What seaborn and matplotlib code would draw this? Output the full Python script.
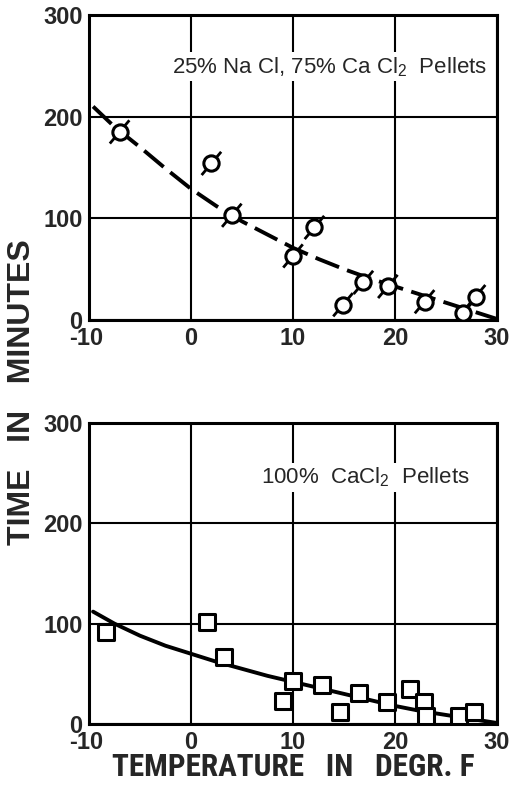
import numpy as np
import pandas as pd
import matplotlib
matplotlib.use("Agg")
import matplotlib.pyplot as plt
import seaborn as sns
from matplotlib import font_manager
from matplotlib.font_manager import FontProperties
from matplotlib.path import Path
from matplotlib.transforms import ScaledTranslation

# ---------------- data ----------------
x_ticks = [-10, 0, 10, 20, 30]
x_tick_labels = ["-10", "0", "10", "20", "30"]
y_ticks = [0, 100, 200, 300]
y_tick_labels = ["0", "100", "200", "300"]

# top panel: 25% NaCl, 75% CaCl2 pellets (points)
top_temp = [-7.0, 2.0, 4.0, 10.0, 12.1, 14.9, 16.9, 19.3, 22.9, 26.7, 27.9]
top_time = [185, 154, 103, 63, 91, 15, 37, 33, 18, 7, 23]
# top panel fitted curve
top_curve_temp = [-9.6, -7.5, -5, -2.5, 0, 2.5, 5, 7.5, 10, 12.5, 15, 17.5, 20, 22.5, 25, 27.5, 30]
top_curve_time = [210, 190, 170, 149, 129, 112, 97, 84, 71, 60, 50, 41, 33, 25, 17, 9, 1]

# bottom panel: 100% CaCl2 pellets (points)
bot_temp = [-8.3, 1.6, 3.2, 10.0, 9.0, 12.8, 14.6, 16.5, 19.2, 21.5, 22.8, 23.0, 26.3, 27.7]
bot_time = [92, 102, 67, 43, 23, 39, 12, 31, 22, 35, 22, 8, 8, 12]
# bottom panel fitted curve
bot_curve_temp = [-9.6, -7.5, -5, -2.5, 0, 2.5, 5, 7.5, 10, 12.5, 15, 17.5, 20, 22.5, 25, 27.5, 30]
bot_curve_time = [112, 100, 88, 78, 70, 62, 55, 48, 42, 36, 30, 24, 18, 13, 9, 5, 1]

top_label = "25% Na Cl, 75% Ca Cl$_2$  Pellets"
bot_label = "100%  CaCl$_2$  Pellets"
y_label = "TIME   IN   MINUTES"
x_label = "TEMPERATURE   IN   DEGR. F"

# ---------------- style ----------------
sns.set_style("white")
names = {f.name for f in font_manager.fontManager.ttflist}
base = "Liberation Sans" if "Liberation Sans" in names else "DejaVu Sans"
plt.rcParams["font.family"] = [base, "DejaVu Sans"]
plt.rcParams["mathtext.fontset"] = "custom"
plt.rcParams["mathtext.rm"] = base
plt.rcParams["mathtext.it"] = base
plt.rcParams["mathtext.default"] = "rm"

# look for a condensed bold face for the x label
cond_file = None
for f in font_manager.fontManager.ttflist:
    fn = f.fname.lower()
    if ("narrow" in fn or "condensed" in fn) and "bold" in fn and "oblique" not in fn and "italic" not in fn:
        cond_file = f.fname
        if "liberation" in fn:
            break

fig = plt.figure(figsize=(5.15, 7.87), dpi=100)
ax1 = fig.add_axes([89 / 515, 1 - 320 / 787, 408 / 515, 305 / 787])
ax2 = fig.add_axes([89 / 515, 1 - 724 / 787, 408 / 515, 301 / 787])

slash = Path([(-0.42, -0.5), (0.42, 0.5)], [Path.MOVETO, Path.LINETO])

df_top = pd.DataFrame({"temp": top_temp, "time": top_time})
df_top_c = pd.DataFrame({"temp": top_curve_temp, "time": top_curve_time})
df_bot = pd.DataFrame({"temp": bot_temp, "time": bot_time})
df_bot_c = pd.DataFrame({"temp": bot_curve_temp, "time": bot_curve_time})

for ax in (ax1, ax2):
    ax.set_xlim(-10, 30)
    ax.set_ylim(0, 300)
    ax.set_xticks(x_ticks)
    ax.set_xticklabels(x_tick_labels)
    ax.set_yticks(y_ticks)
    ax.set_yticklabels(y_tick_labels)
    ax.tick_params(length=0, labelsize=17, pad=4.5)
    ax.tick_params(axis="x", pad=5.0)
    for lab in ax.get_xticklabels() + ax.get_yticklabels():
        lab.set_fontweight("bold")
    ax.grid(True, color="black", linewidth=1.5)
    ax.set_axisbelow(True)
    for sp in ax.spines.values():
        sp.set_visible(True)
        sp.set_color("black")
        sp.set_linewidth(2.2)

# top panel
sns.lineplot(data=df_top_c, x="temp", y="time", ax=ax1, color="black",
             linewidth=2.8, linestyle=(0, (6.5, 2.2)), zorder=2)
sns.scatterplot(data=df_top, x="temp", y="time", ax=ax1, marker=slash, s=280,
                facecolor="none", edgecolor="black", linewidth=2.0, zorder=3)
sns.scatterplot(data=df_top, x="temp", y="time", ax=ax1, marker="o", s=121,
                facecolor="white", edgecolor="black", linewidth=2.2, zorder=4)
ax1.text(-1.9, 249, top_label, fontsize=16, ha="left", va="center",
         bbox=dict(facecolor="white", edgecolor="none", pad=2), zorder=5)

# bottom panel
sns.lineplot(data=df_bot_c, x="temp", y="time", ax=ax2, color="black",
             linewidth=2.8, zorder=2)
sns.scatterplot(data=df_bot, x="temp", y="time", ax=ax2, marker="s", s=140,
                facecolor="white", edgecolor="black", linewidth=2.2, zorder=4)
ax2.text(6.9, 246, bot_label, fontsize=16, ha="left", va="center",
         bbox=dict(facecolor="white", edgecolor="none", pad=2), zorder=5)

for ax in (ax1, ax2):
    ax.set_xlabel("")
    ax.set_ylabel("")
    # nudge "-10" a little left, as in the reference
    xlabs = ax.get_xticklabels()
    xlabs[0].set_transform(xlabs[0].get_transform() + ScaledTranslation(-3 / 100, 0, fig.dpi_scale_trans))

fig.text(22 / 515, 1 - 392 / 787, y_label, rotation=90, ha="center", va="center",
         fontsize=23, fontweight="bold", family=[base, "DejaVu Sans"])
if cond_file is not None:
    fp = FontProperties(fname=cond_file, size=22.5)
    fig.text(293 / 515, 1 - 767 / 787, x_label, ha="center", va="center", fontproperties=fp)
else:
    fig.text(293 / 515, 1 - 767 / 787, x_label, ha="center", va="center",
             fontsize=19, fontweight="bold", family=[base, "DejaVu Sans"])

fig.savefig("out.png", dpi=100)
